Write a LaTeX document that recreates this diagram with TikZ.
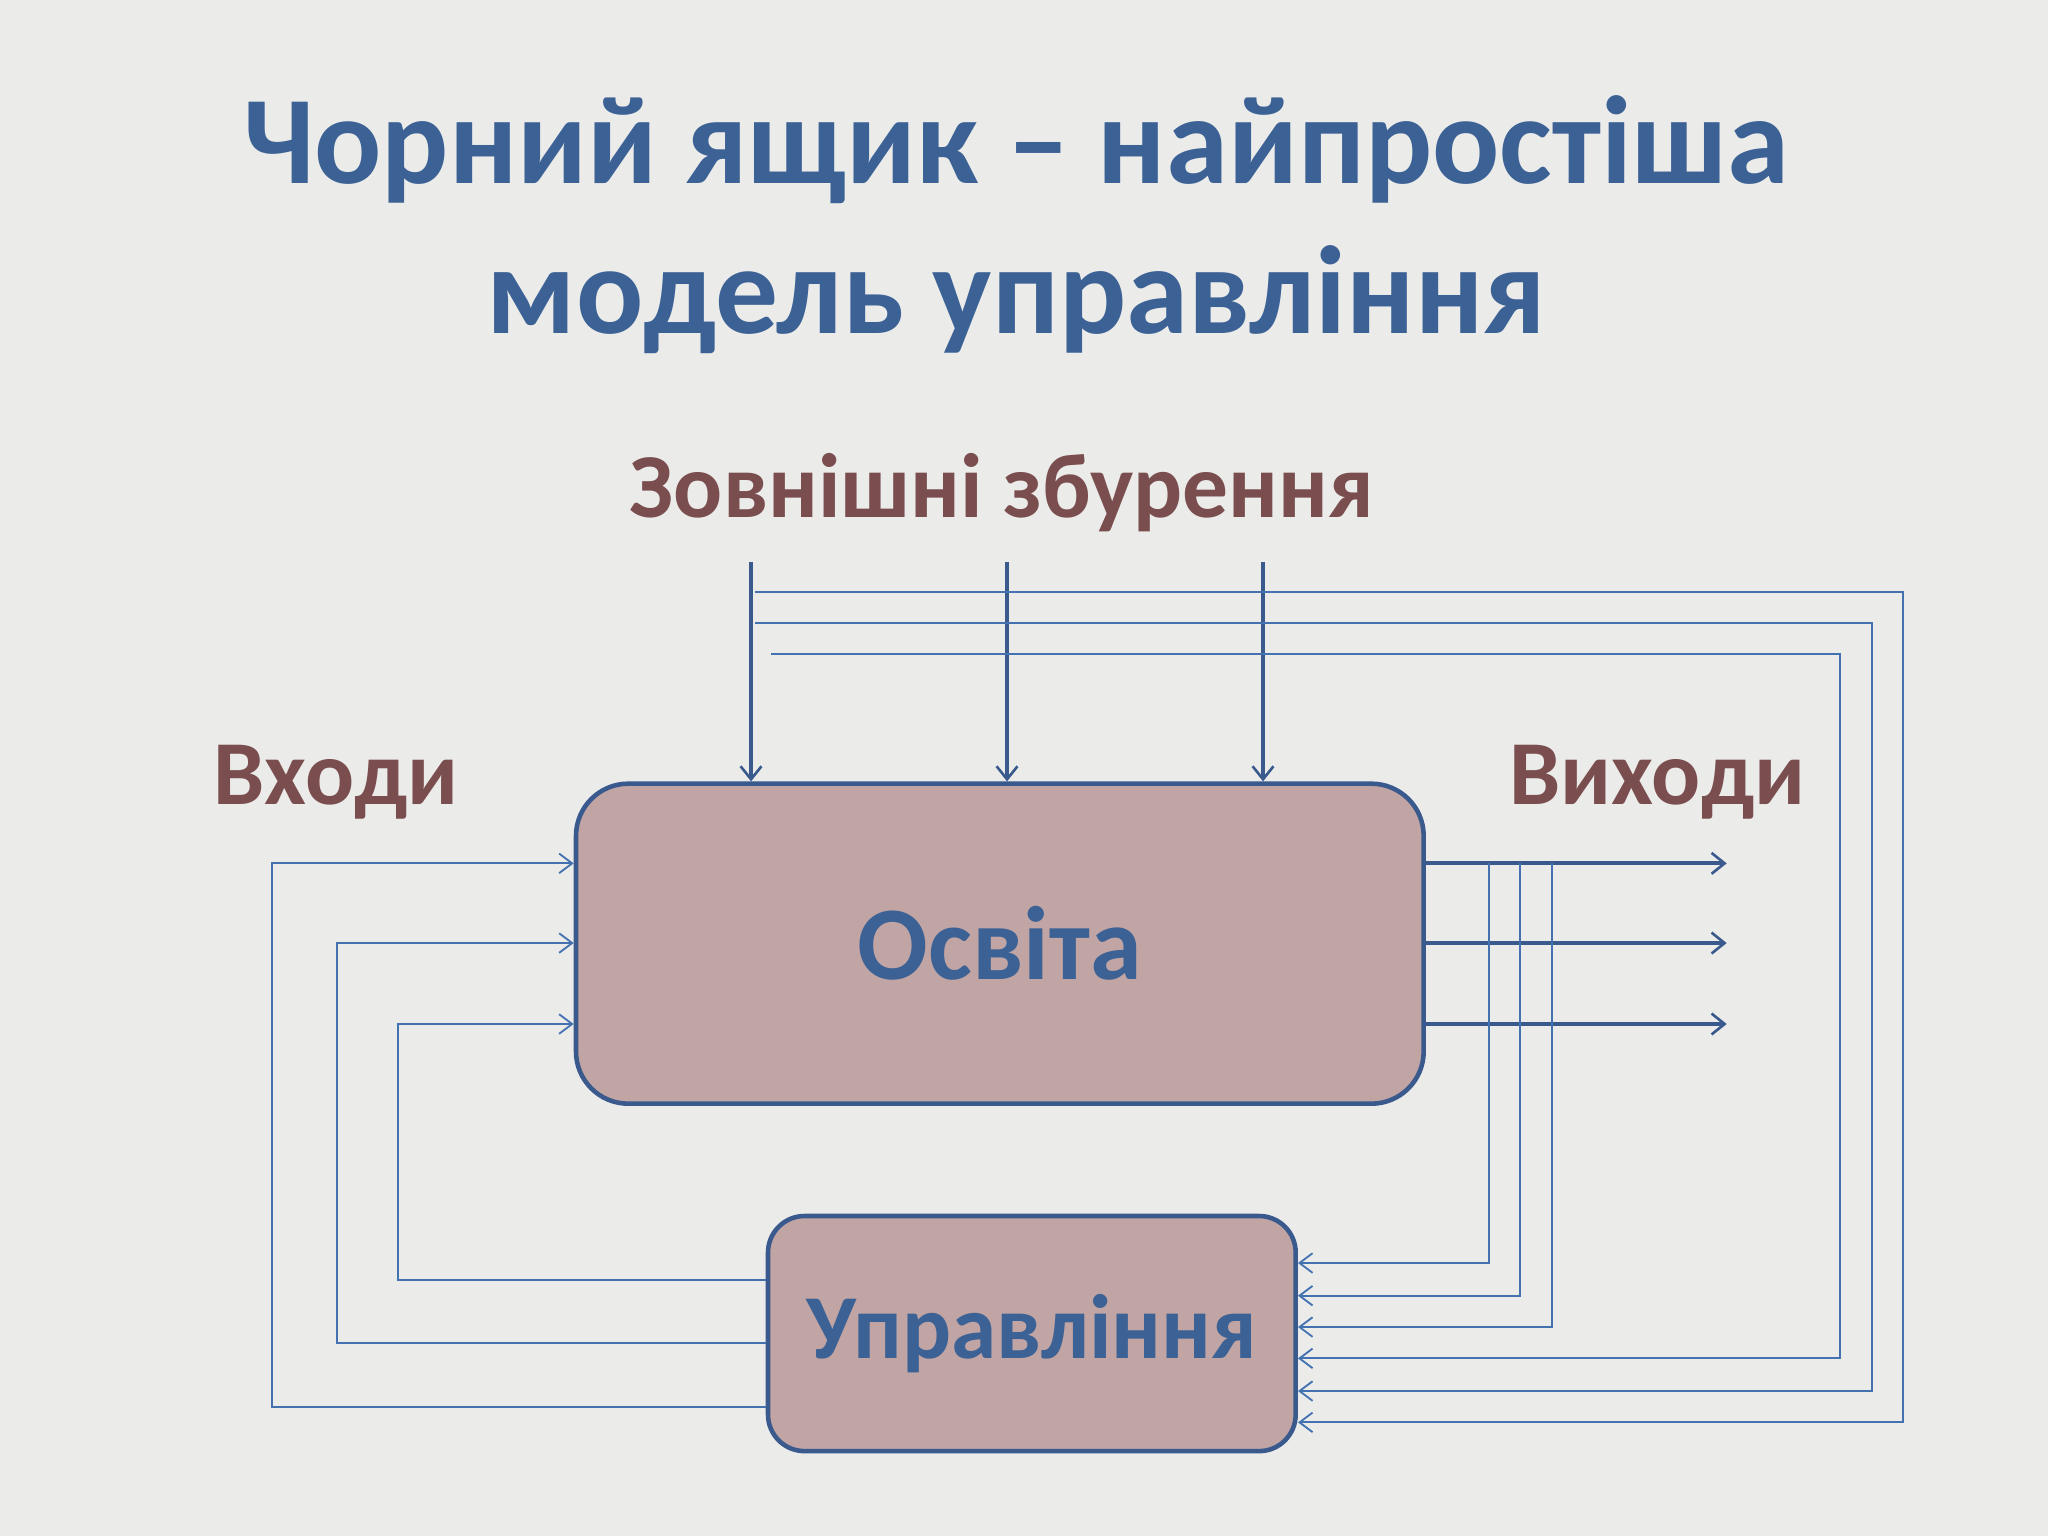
\documentclass[tikz,border=0pt]{standalone}
\usepackage{fontspec}
\setmainfont{Carlito}
\usetikzlibrary{arrows.meta}
\definecolor{tblue}{HTML}{3B6195}
\definecolor{tbrown}{HTML}{7A4E4E}
\definecolor{bfill}{HTML}{C1A4A4}
\definecolor{bline}{HTML}{3A5A8E}
\definecolor{lblue}{HTML}{4472B0}
\definecolor{bg}{HTML}{EBEBEA}
\begin{document}
\begin{tikzpicture}[x=1pt,y=-1pt,
  main/.style={draw=bline,line width=3pt,-{Straight Barb[length=10pt,width=16pt,line width=2pt]}},
  fb/.style={draw=lblue,line width=1.4pt},
  fba/.style={fb,-{Straight Barb[length=10pt,width=15pt,line width=1.4pt]}},
  boxst/.style={draw=bline,line width=3.5pt,fill=bfill,rounded corners=40pt,inner sep=0pt},
  lab/.style={text=tbrown,font=\bfseries\fontsize{70}{70}\selectfont}]
\useasboundingbox[fill=bg] (0,0) rectangle (1568,1176);
\node[text=tblue,font=\bfseries\fontsize{96}{115}\selectfont,align=center] (title) at (778,172) {Чорний ящик – найпростіша\\модель управління};
\node[lab] (dist) at (767,377) {Зовнішні збурення};
\node[lab,anchor=west] (inp) at (160,599) {Входи};
\node[lab,anchor=west] (outp) at (1152,599) {Виходи};
\node[boxst,minimum width=649pt,minimum height=245pt,text=tblue,font=\bfseries\fontsize{80}{80}\selectfont] (edu) at (765.5,722.5) {Освіта};
\node[boxst,rounded corners=28pt,minimum width=404pt,minimum height=180pt,text=tblue,font=\bfseries\fontsize{70}{70}\selectfont] (ctl) at (790,1021) {Управління};
% disturbances
\foreach \x in {575,771,967}{\coordinate (d\x) at (\x,430); \draw[main] (d\x) -- (d\x |- edu.north);}
% outputs
\foreach \y in {661,722,784}{\coordinate (o\y) at (1322,\y); \draw[main] (edu.east |- o\y) -- (o\y);}
% feedback from top
\draw[fba] (578,453) -| (1457,1089) -- (ctl.east |- 0,1089);
\draw[fba] (578,477) -| (1433,1065) -- (ctl.east |- 0,1065);
\draw[fba] (590,501) -| (1409,1040) -- (ctl.east |- 0,1040);
% feedback from outputs
\draw[fba] (1140,661) -- (1140,967) -- (ctl.east |- 0,967);
\draw[fba] (1164,661) -- (1164,992) -- (ctl.east |- 0,992);
\draw[fba] (1188,661) -- (1188,1016) -- (ctl.east |- 0,1016);
% inputs
\draw[fba] (ctl.west |- 0,980) -| (305,784) -- (edu.west |- 0,784);
\draw[fba] (ctl.west |- 0,1028) -| (258,722) -- (edu.west |- 0,722);
\draw[fba] (ctl.west |- 0,1077) -| (208,661) -- (edu.west |- 0,661);
\end{tikzpicture}
\end{document}
